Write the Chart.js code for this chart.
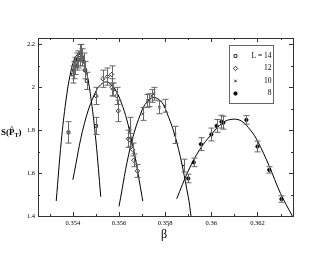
<!DOCTYPE html>
<html>
<head>
<meta charset="utf-8">
<script src="https://cdn.jsdelivr.net/npm/chart.js@4.4.1/dist/chart.umd.min.js"></script>
<style>
  html, body { margin: 0; padding: 0; background: #fff; }
  #wrap { width: 330px; height: 255px; }
</style>
</head>
<body>
<div id="wrap"><canvas id="chart" width="330" height="255"></canvas></div>
<script>
// measured points, L = 14
const l14X = [0.35381, 0.35400, 0.35405, 0.35410, 0.35416, 0.35422, 0.35430, 0.35436, 0.35441, 0.35447, 0.35453, 0.35460, 0.35501];
const l14Y = [1.79, 2.06, 2.08, 2.10, 2.12, 2.13, 2.15, 2.16, 2.14, 2.12, 2.08, 2.03, 1.82];
const l14Err = [0.05, 0.04, 0.04, 0.04, 0.04, 0.04, 0.05, 0.04, 0.04, 0.04, 0.04, 0.04, 0.04];

// L = 12
const l12X = [0.35501, 0.35530, 0.35550, 0.35568, 0.35570, 0.35576, 0.35590, 0.35597, 0.35641, 0.35648, 0.35659, 0.35664, 0.35680];
const l12Y = [1.96, 2.04, 2.05, 2.06, 2.00, 1.99, 1.96, 1.89, 1.76, 1.755, 1.71, 1.66, 1.61];
const l12Err = [0.04, 0.04, 0.04, 0.04, 0.04, 0.03, 0.04, 0.05, 0.04, 0.03, 0.03, 0.03, 0.03];

// L = 10
const l10X = [0.35648, 0.35703, 0.35723, 0.35732, 0.35742, 0.35752, 0.35775, 0.35799, 0.35843, 0.35880];
const l10Y = [1.81, 1.876, 1.937, 1.94, 1.96, 1.97, 1.907, 1.914, 1.778, 1.635];
const l10Err = [0.05, 0.03, 0.03, 0.03, 0.03, 0.03, 0.03, 0.03, 0.04, 0.03];

// L = 8
const l8X = [0.35900, 0.35924, 0.35955, 0.36000, 0.36023, 0.36044, 0.36052, 0.36152, 0.36200, 0.36251, 0.36304];
const l8Y = [1.575, 1.65, 1.735, 1.78, 1.82, 1.84, 1.835, 1.848, 1.724, 1.615, 1.479];
const l8Err = [0.02, 0.02, 0.03, 0.03, 0.03, 0.03, 0.03, 0.02, 0.025, 0.015, 0.015];

// fitted curves
const c14X = [0.35328, 0.35350, 0.35370, 0.35390, 0.35410, 0.35425, 0.35440, 0.35460, 0.35480, 0.35500, 0.35521];
const c14Y = [1.47, 1.75, 1.937, 2.067, 2.139, 2.155, 2.139, 2.067, 1.937, 1.75, 1.49];
const c12X = [0.35400, 0.35450, 0.35500, 0.35530, 0.35544, 0.35560, 0.35600, 0.35650, 0.35700, 0.35703];
const c12Y = [1.569, 1.831, 1.982, 2.021, 2.025, 2.019, 1.956, 1.778, 1.49, 1.469];
const c10X = [0.35600, 0.35650, 0.35700, 0.35730, 0.35752, 0.35780, 0.35800, 0.35850, 0.35900, 0.35912];
const c10Y = [1.445, 1.724, 1.894, 1.942, 1.953, 1.936, 1.902, 1.745, 1.49, 1.40];
const c8X = [0.35850, 0.35900, 0.35950, 0.36000, 0.36050, 0.36090, 0.36130, 0.36170, 0.36200, 0.36250, 0.36300, 0.36351];
const c8Y = [1.48, 1.61, 1.71, 1.78, 1.835, 1.851, 1.843, 1.80, 1.75, 1.635, 1.505, 1.40];

// axis ticks
const xMajor = [0.354, 0.356, 0.358, 0.36, 0.362];
const xLabels = ['0.354', '0.356', '0.358', '0.36', '0.362'];
const xMinor = [0.353, 0.355, 0.357, 0.359, 0.361, 0.363];
const yMajor = [1.4, 1.6, 1.8, 2.0, 2.2];
const yLabels = ['1.4', '1.6', '1.8', '2', '2.2'];
const yMinor = [1.5, 1.7, 1.9, 2.1];

const legendLabels = ['L = 14', '12', '10', '8'];

function pts(xs, ys) {
    return xs.map((x, i) => ({x: x, y: ys[i]}));
}

function curve(xs, ys) {
    return {
        data: pts(xs, ys),
        showLine: true,
        borderColor: '#000',
        borderWidth: 1,
        pointRadius: 0,
        tension: 0.4,
        fill: false
    };
}

function marks(xs, ys, errs, style, r, filled) {
    return {
        data: pts(xs, ys),
        errs: errs,
        showLine: false,
        pointStyle: style,
        pointRadius: r,
        pointBorderWidth: 0.8,
        pointBorderColor: '#000',
        pointBackgroundColor: filled ? '#000' : '#fff'
    };
}

const styles = [
    ['rect', 2, false],
    ['rectRot', 2.2, false],
    ['crossRot', 1.8, false],
    ['circle', 1.7, true]
];

const errorBars = {
    id: 'errorBars',
    afterDatasetsDraw(chart) {
        const ctx = chart.ctx;
        const xs = chart.scales.x, ys = chart.scales.y;
        ctx.save();
        ctx.strokeStyle = '#666';
        ctx.lineWidth = 1;
        chart.data.datasets.forEach(ds => {
            if (!ds.errs) return;
            ds.data.forEach((p, i) => {
                const px = Math.round(xs.getPixelForValue(p.x)) + 0.5;
                const top = ys.getPixelForValue(p.y + ds.errs[i]);
                const bot = ys.getPixelForValue(p.y - ds.errs[i]);
                ctx.beginPath();
                ctx.moveTo(px, top); ctx.lineTo(px, bot);
                ctx.moveTo(px - 3, top); ctx.lineTo(px + 3, top);
                ctx.moveTo(px - 3, bot); ctx.lineTo(px + 3, bot);
                ctx.stroke();
            });
        });
        ctx.restore();
    }
};

const frame = {
    id: 'frame',
    afterDraw(chart) {
        const ctx = chart.ctx;
        const a = chart.chartArea;
        const xs = chart.scales.x, ys = chart.scales.y;
        ctx.save();
        ctx.strokeStyle = '#333';
        ctx.lineWidth = 1;
        ctx.strokeRect(a.left + 0.5, a.top + 0.5, a.right - a.left, a.bottom - a.top);

        ctx.beginPath();
        function xt(v, len) {
            const p = Math.round(xs.getPixelForValue(v)) + 0.5;
            ctx.moveTo(p, a.bottom); ctx.lineTo(p, a.bottom - len);
            ctx.moveTo(p, a.top); ctx.lineTo(p, a.top + len);
        }
        function yt(v, len) {
            const p = Math.round(ys.getPixelForValue(v)) + 0.5;
            ctx.moveTo(a.left, p); ctx.lineTo(a.left + len, p);
            ctx.moveTo(a.right, p); ctx.lineTo(a.right - len, p);
        }
        xMajor.forEach(v => xt(v, 4));
        xMinor.forEach(v => xt(v, 2));
        yMajor.forEach(v => yt(v, 4));
        yMinor.forEach(v => yt(v, 2));
        ctx.stroke();

        // legend box
        ctx.strokeStyle = '#666';
        ctx.strokeRect(229.5, 45.5, 44, 58);
        ctx.fillStyle = '#000';
        ctx.font = '7.5px "Liberation Serif", serif';
        ctx.textAlign = 'right';
        ctx.textBaseline = 'middle';
        const rowY = [56, 68.5, 81, 93.5];
        legendLabels.forEach((t, i) => {
            const s = styles[i];
            ctx.save();
            ctx.strokeStyle = '#000';
            ctx.fillStyle = s[2] ? '#000' : '#fff';
            ctx.lineWidth = 0.8;
            Chart.helpers.drawPoint(ctx, {pointStyle: s[0], radius: s[1], borderWidth: 0.8, rotation: 0}, 235.5, rowY[i]);
            ctx.restore();
            ctx.fillText(t, 271.5, rowY[i]);
        });

        // y title: S(P^T)
        ctx.textAlign = 'left';
        ctx.textBaseline = 'alphabetic';
        ctx.font = 'bold 9px "Liberation Serif", serif';
        let x = 1;
        const by = 135;
        ctx.fillText('S(', x, by);
        x += ctx.measureText('S(').width;
        ctx.fillText('P', x, by);
        const pw = ctx.measureText('P').width;
        ctx.font = 'bold 7px "Liberation Serif", serif';
        ctx.fillText('^', x + pw / 2 - 2, by - 5);
        ctx.font = 'bold 6px "Liberation Serif", serif';
        ctx.fillText('T', x + pw, by + 2);
        const tw = ctx.measureText('T').width;
        ctx.font = 'bold 9px "Liberation Serif", serif';
        ctx.fillText(')', x + pw + tw, by);

        // x title: beta'
        ctx.font = '12px "Liberation Serif", serif';
        ctx.fillText('\u03b2', 161, 238);
        ctx.font = '8px "DejaVu Sans", sans-serif';
        ctx.fillText('\u2032', 167.5, 232);
        ctx.restore();
    }
};

const datasets = [
    curve(c14X, c14Y), curve(c12X, c12Y), curve(c10X, c10Y), curve(c8X, c8Y),
    marks(l14X, l14Y, l14Err, ...styles[0]),
    marks(l12X, l12Y, l12Err, ...styles[1]),
    marks(l10X, l10Y, l10Err, ...styles[2]),
    marks(l8X, l8Y, l8Err, ...styles[3])
];

const tickFont = {family: '"Liberation Serif", serif', size: 6.5};

new Chart(document.getElementById('chart'), {
    type: 'scatter',
    data: {datasets: datasets},
    options: {
        responsive: false,
        animation: false,
        clip: true,
        layout: {padding: {left: 0, top: 38, right: 37, bottom: 0}},
        plugins: {legend: {display: false}, tooltip: {enabled: false}},
        scales: {
            x: {
                type: 'linear',
                min: 0.35249,
                max: 0.36354,
                grid: {display: false, drawTicks: false},
                border: {display: false},
                afterBuildTicks: s => { s.ticks = xMajor.map(v => ({value: v})); },
                afterFit: s => { s.height = 39; },
                ticks: {
                    color: '#000',
                    font: tickFont,
                    padding: 3,
                    maxRotation: 0,
                    callback: (v, i) => xLabels[i]
                }
            },
            y: {
                type: 'linear',
                min: 1.4,
                max: 2.23,
                grid: {display: false, drawTicks: false},
                border: {display: false},
                afterBuildTicks: s => { s.ticks = yMajor.map(v => ({value: v})); },
                afterFit: s => { s.width = 38; },
                ticks: {
                    color: '#000',
                    font: tickFont,
                    padding: 3,
                    callback: (v, i) => yLabels[i]
                }
            }
        }
    },
    plugins: [errorBars, frame]
});
</script>
</body>
</html>
